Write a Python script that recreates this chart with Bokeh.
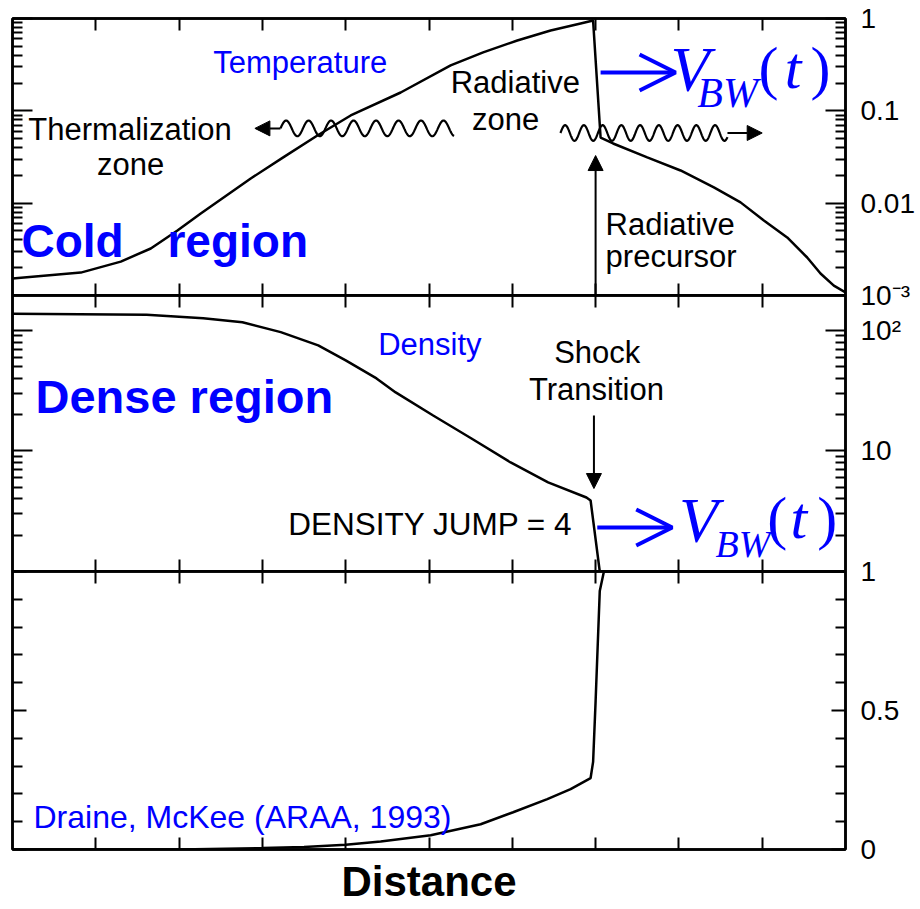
import numpy as np
from bokeh.plotting import figure
from bokeh.layouts import column
from bokeh.models import (LinearAxis, LogAxis, FixedTicker, Arrow, NormalHead, OpenHead,
                          CustomJSTickFormatter, Range1d)
from bokeh.core.properties import value
from bokeh.embed import file_html
from bokeh.resources import INLINE

# ---------------- data ----------------
distance_temp = [0.0, 0.82, 1.30, 1.66, 1.98, 2.26, 2.86, 3.25, 3.66, 4.06, 4.66, 5.26, 5.65, 6.06,
                 6.46, 6.82, 6.97, 7.06, 7.21, 7.62, 8.02, 8.42, 8.74, 9.02, 9.30, 9.54, 9.70, 9.86, 10.0]
temperature = [0.00153, 0.00177, 0.00233, 0.00323, 0.00506, 0.00773, 0.0185, 0.0313, 0.0541, 0.0891,
               0.158, 0.310, 0.429, 0.578, 0.741, 0.883, 0.95, 0.0514, 0.0443, 0.0313, 0.0226, 0.0148,
               0.0102, 0.00649, 0.00425, 0.00258, 0.00173, 0.00128, 0.00108]

distance_dens = [0.0, 1.61, 2.29, 2.76, 3.22, 3.67, 4.00, 4.37, 4.60, 5.05, 5.51, 5.98, 6.43, 6.89,
                 6.94, 7.05, 10.0]
density = [137.6, 135, 126.5, 117, 96.8, 75.1, 56.4, 40.0, 30.6, 19.7, 12.7, 8.03, 5.48, 4.11, 3.88,
           1.0, 1.0]

distance_frac = [0.0, 2.0, 3.0, 3.5, 4.0, 4.42, 5.02, 5.62, 6.01, 6.42, 6.70, 6.94, 6.97, 7.0, 7.05,
                 7.10, 10.0]
fraction = [0.0, 0.0, 0.005, 0.009, 0.017, 0.029, 0.051, 0.091, 0.134, 0.181, 0.217, 0.257, 0.315,
            0.533, 0.93, 1.0, 1.0]

distance_ticks = [1, 2, 3, 4, 5, 6, 7, 8, 9]
temp_ticks = [0.001, 0.01, 0.1, 1]
temp_labels = ["10⁻³", "0.01", "0.1", "1"]
dens_ticks = [1, 10, 100]
dens_labels = ["", "10", "10²"]
frac_ticks = [0, 0.5, 1]
frac_labels = ["0", "0.5", "1"]
frac_minor = [0.1, 0.2, 0.3, 0.4, 0.6, 0.7, 0.8, 0.9]

# ---------------- layout constants ----------------
W = 920
LEFT = 12
RIGHT = 75
PAD = 20
BLUE = "#0000ff"
SANS = "Liberation Sans"
SERIF = "Liberation Serif"
BASE_SHIFT = 0.36   # renderer draws alphabetic baselines this many em too low


def log_minor(major):
    return [m * t for t in major[:-1] for m in range(2, 10)]


def blank():
    return CustomJSTickFormatter(code="return ''")


def labeller(vals, labs):
    return CustomJSTickFormatter(args=dict(vals=vals, labs=labs), code="""
        for (let i = 0; i < vals.length; i++) {
            if (Math.abs(vals[i] - tick) <= 1e-9 * Math.max(1, Math.abs(vals[i]))) return labs[i];
        }
        return '';
    """)


def make_fig(y_type, y_range, frame_h, top, bottom):
    p = figure(width=W, height=top + frame_h + bottom, x_range=Range1d(0, 10), y_range=y_range,
               y_axis_type=y_type, output_backend="svg", toolbar_location=None,
               x_axis_location=None, y_axis_location=None,
               min_border_left=LEFT, min_border_right=RIGHT, min_border_top=top, min_border_bottom=bottom,
               border_fill_color=None, background_fill_color="white",
               outline_line_color="black", outline_line_width=2.5)
    p.xgrid.visible = False
    p.ygrid.visible = False
    return p


def frame_axes(p, log, majors, minors, labs, maj_len, min_len, xlabel=None):
    xt = FixedTicker(ticks=distance_ticks, minor_ticks=[])
    for loc in ("above", "below"):
        ax = LinearAxis(ticker=xt, formatter=blank(), major_tick_in=12, major_tick_out=0,
                        minor_tick_in=0, minor_tick_out=0, major_label_text_font_size="1px",
                        major_label_standoff=0, axis_line_width=2.5, major_tick_line_width=2)
        if loc == "below" and xlabel:
            ax.axis_label = xlabel
            ax.axis_label_text_font = SANS
            ax.axis_label_text_font_size = "42px"
            ax.axis_label_text_font_style = "bold"
            ax.axis_label_text_color = "black"
            ax.axis_label_standoff = 8
        p.add_layout(ax, loc)
    Ax = LogAxis if log else LinearAxis
    yt = FixedTicker(ticks=majors, minor_ticks=minors)
    left = Ax(ticker=yt, formatter=blank(), major_tick_in=maj_len, major_tick_out=0,
              minor_tick_in=min_len, minor_tick_out=0, major_label_text_font_size="1px",
              major_label_standoff=0, axis_line_width=2.5, major_tick_line_width=2,
              minor_tick_line_width=1.8)
    p.add_layout(left, "left")
    right = Ax(ticker=yt, formatter=labeller(majors, labs), major_tick_in=maj_len, major_tick_out=0,
               minor_tick_in=min_len, minor_tick_out=0, major_label_text_font_size="28px",
               major_label_text_font=SANS, major_label_text_color="black",
               major_label_standoff=15, axis_line_width=2.5, major_tick_line_width=2,
               minor_tick_line_width=1.8)
    p.add_layout(right, "right")


def txt(p, x, y, s, size, color="black", style="normal", font=SANS, align="left"):
    p.text(x=[x], y=[y], text=[s], text_font=value(font), text_font_size=f"{size}px",
           text_color=color, text_font_style=style, text_align=align, text_baseline="alphabetic",
           y_offset=-round(BASE_SHIFT * size))


def vbw(p, xv, yv, xb, yb, bsize, xp, yp, xt, xc):
    txt(p, xv, yv, "V", 64, BLUE, "italic", SERIF)
    txt(p, xb, yb, "BW", bsize, BLUE, "italic", SERIF)
    txt(p, xp, yp, "(", 60, BLUE, "normal", SERIF)
    txt(p, xt, yp, "t", 60, BLUE, "italic", SERIF)
    txt(p, xc, yp, ")", 60, BLUE, "normal", SERIF)


def black_arrow(p, x0, y0, x1, y1):
    p.add_layout(Arrow(end=NormalHead(size=15, fill_color="black", line_color="black"),
                       x_start=x0, y_start=y0, x_end=x1, y_end=y1,
                       line_color="black", line_width=2))


def blue_arrow(p, x0, x1, y):
    p.add_layout(Arrow(end=OpenHead(size=36, line_color=BLUE, line_width=4),
                       x_start=x0, y_start=y, x_end=x1, y_end=y,
                       line_color=BLUE, line_width=4))


# ---------------- top panel: temperature ----------------
p1 = make_fig("log", Range1d(0.001, 1), 277, 18, PAD)
frame_axes(p1, True, temp_ticks, log_minor(temp_ticks), temp_labels, 20, 10)
p1.line(distance_temp, temperature, line_color="black", line_width=2.5)

# wavy radiation arrows (decoration)
for x0, x1, yc, wl in ((3.217, 5.30, -1.19, 0.27), (6.578, 8.583, -1.24, 0.225)):
    xs = np.linspace(x0, x1, 400)
    ys = 10 ** (yc + 0.085 * np.sin(2 * np.pi * (xs - x0) / wl))
    p1.line(xs, ys, line_color="black", line_width=2.2)
black_arrow(p1, 3.217, 10 ** -1.19, 2.91, 10 ** -1.19)
black_arrow(p1, 8.583, 10 ** -1.24, 9.0, 10 ** -1.24)
black_arrow(p1, 7.0, 0.001, 7.0, 0.0328)
blue_arrow(p1, 7.06, 7.96, 0.26)

txt(p1, 2.41, 0.2535, "Temperature", 31, BLUE)
txt(p1, 0.19, 0.0478, "Thermalization", 31)
txt(p1, 1.417, 0.0199, "zone", 31, align="center")
txt(p1, 5.26, 0.154, "Radiative", 31)
txt(p1, 5.92, 0.0612, "zone", 31, align="center")
txt(p1, 7.12, 0.00447, "Radiative", 31)
txt(p1, 7.12, 0.00201, "precursor", 31)
txt(p1, 0.108, 0.00252, "Cold", 46, BLUE, "bold")
txt(p1, 1.86, 0.00252, "region", 46, BLUE, "bold")
vbw(p1, 7.90, 0.158, 8.22, 0.106, 42, 8.955, 0.170, 9.27, 9.58)

# ---------------- middle panel: density ----------------
p2 = make_fig("log", Range1d(1, 195), 276, PAD, PAD)
frame_axes(p2, True, dens_ticks, log_minor(dens_ticks), dens_labels, 20, 10)
p2.line(distance_dens, density, line_color="black", line_width=2.5)
p2.margin = (-2 * PAD, 0, 0, 0)

black_arrow(p2, 6.98, 19.7, 6.98, 4.88)
blue_arrow(p2, 7.02, 7.92, 2.32)
txt(p2, 4.39, 62.1, "Density", 31, BLUE)
txt(p2, 0.276, 20.5, "Dense region", 47, BLUE, "bold")
txt(p2, 7.02, 53.2, "Shock", 31, align="center")
txt(p2, 7.01, 26.2, "Transition", 31, align="center")
txt(p2, 3.31, 1.99, "DENSITY JUMP = 4", 31.5)
vbw(p2, 8.0, 1.707, 8.44, 1.282, 38, 9.06, 1.81, 9.34, 9.66)

# ---------------- bottom panel ----------------
p3 = make_fig("linear", Range1d(0, 1), 278, PAD, 60)
frame_axes(p3, False, frac_ticks, frac_minor, frac_labels, 14, 10, xlabel="Distance")
p3.line(distance_frac, fraction, line_color="black", line_width=2.5)
p3.margin = (-2 * PAD, 0, 0, 0)
txt(p3, 0.252, 0.0755, "Draine, McKee (ARAA, 1993)", 32, BLUE)

layout = column(p1, p2, p3)
open("out.html", "w").write(file_html(layout, INLINE))
